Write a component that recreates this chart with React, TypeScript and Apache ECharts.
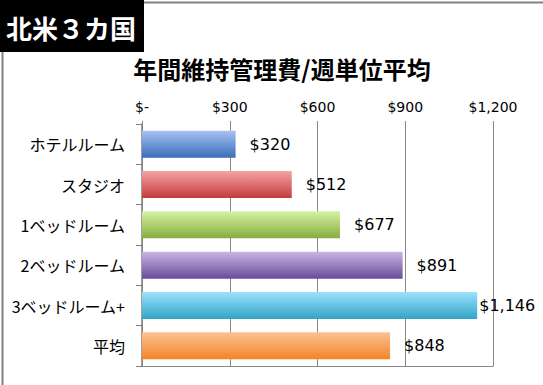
import React, { useEffect, useRef } from "react";
import * as echarts from "echarts";

const categories = ["ホテルルーム", "スタジオ", "1ベッドルーム", "2ベッドルーム", "3ベッドルーム+", "平均"];
const values = [320, 512, 677, 891, 1146, 848];
const labelDistances = [14, 14, 14, 14, 2, 14];
const gradientTops = ["#a6c3f3", "#f5a3a3", "#d6f1a3", "#c9b6e4", "#9be2fb", "#fbc193"];
const gradientBottoms = ["#3a6db9", "#c23c3c", "#87ad3e", "#6b4c98", "#33a3c9", "#f38526"];
const xTicks = ["$-", "$300", "$600", "$900", "$1,200"];

const FONT = "'Noto Sans CJK JP', 'Noto Sans', sans-serif";
const NUMFONT = "'DejaVu Sans', 'Noto Sans CJK JP', sans-serif";

function fmt(v: number) {
  return "$" + v.toLocaleString("en-US");
}

export default function App() {
  const ref = useRef<HTMLDivElement>(null);
  useEffect(() => {
    if (!ref.current) return;
    const chart = echarts.init(ref.current, undefined, { renderer: "svg" });
    chart.setOption({
      animation: false,
      backgroundColor: "#ffffff",
      grid: { left: 142, right: 50, top: 124, bottom: 19, containLabel: false },
      graphic: [
        {
          type: "rect",
          left: 0,
          top: 0,
          shape: { width: 542, height: 384 },
          style: { fill: "none", stroke: "#808080", lineWidth: 2 },
          z: 0,
        },
        {
          type: "rect",
          left: 0,
          top: 0,
          shape: { width: 144, height: 52 },
          style: { fill: "#000000" },
        },
        {
          type: "text",
          x: 71,
          y: 27,
          style: {
            text: "北米３カ国",
            fill: "#ffffff",
            font: `bold 26px ${FONT}`,
            align: "center",
            verticalAlign: "middle",
          },
        },
        {
          type: "text",
          x: 282,
          y: 68,
          style: {
            text: "年間維持管理費/週単位平均",
            fill: "#000000",
            font: `bold 24px ${FONT}`,
            align: "center",
            verticalAlign: "middle",
          },
        },
      ],
      xAxis: [
        {
          type: "value",
          position: "top",
          min: 0,
          max: 1200,
          interval: 300,
          axisLine: { show: false },
          axisTick: { show: true, length: 3, lineStyle: { color: "#888888" } },
          splitLine: { show: true, lineStyle: { color: "#888888", width: 1 } },
          axisLabel: {
            margin: 10,
            color: "#000000",
            fontSize: 14,
            fontFamily: NUMFONT,
            formatter: (v: number) => xTicks[Math.round(v / 300)],
          },
        },
        {
          type: "value",
          position: "bottom",
          min: 0,
          max: 1200,
          interval: 300,
          axisLine: { show: true, lineStyle: { color: "#888888", width: 1 } },
          axisTick: { show: false },
          splitLine: { show: false },
          axisLabel: { show: false },
        },
      ],
      yAxis: {
        type: "category",
        data: categories,
        inverse: true,
        axisLine: { show: true, lineStyle: { color: "#808080", width: 1.5 } },
        axisTick: { show: true, length: 6, lineStyle: { color: "#808080" } },
        axisLabel: { margin: 17, color: "#000000", fontSize: 16, fontFamily: FONT },
      },
      series: [
        {
          type: "bar",
          xAxisIndex: 0,
          barWidth: 27,
          data: values.map((v, i) => ({
            value: v,
            itemStyle: {
              color: new echarts.graphic.LinearGradient(0, 0, 0, 1, [
                { offset: 0, color: gradientTops[i] },
                { offset: 1, color: gradientBottoms[i] },
              ]),
            },
            label: { distance: labelDistances[i] },
          })),
          label: {
            show: true,
            position: "right",
            color: "#000000",
            fontSize: 16,
            fontFamily: NUMFONT,
            formatter: (p: any) => fmt(p.value),
          },
        },
      ],
    });
    return () => chart.dispose();
  }, []);
  return (
    <div
      ref={ref}
      style={{ position: "fixed", left: 0, top: 0, width: 543, height: 385 }}
    />
  );
}
